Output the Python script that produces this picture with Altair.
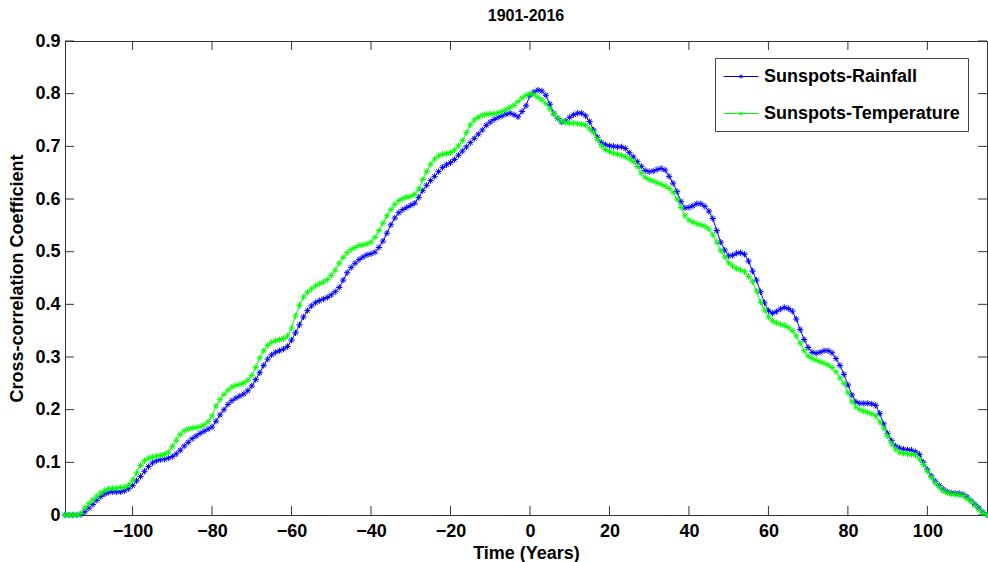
import altair as alt
import pandas as pd

lags = list(range(-117, 116))

rainfall = [
    0, 0, 0, 0, 0.001, 0.006, 0.013, 0.02, 0.028, 0.035,           # -117..-108
    0.04, 0.043, 0.044, 0.044, 0.044, 0.046, 0.05, 0.056, 0.065, 0.073,  # -107..-98
    0.083, 0.092, 0.099, 0.103, 0.105, 0.106, 0.108, 0.111, 0.116, 0.123,  # -97..-88
    0.131, 0.138, 0.145, 0.15, 0.155, 0.159, 0.163, 0.167, 0.178, 0.19,  # -87..-78
    0.2, 0.21, 0.217, 0.222, 0.226, 0.23, 0.236, 0.245, 0.257, 0.27,   # -77..-68
    0.284, 0.296, 0.304, 0.309, 0.312, 0.315, 0.32, 0.332, 0.346, 0.361,  # -67..-58
    0.376, 0.388, 0.397, 0.403, 0.407, 0.41, 0.413, 0.418, 0.424, 0.432,  # -57..-48
    0.446, 0.46, 0.47, 0.478, 0.485, 0.49, 0.494, 0.496, 0.499, 0.508,  # -47..-38
    0.52, 0.535, 0.551, 0.564, 0.574, 0.58, 0.584, 0.588, 0.592, 0.603,  # -37..-28
    0.616, 0.626, 0.635, 0.643, 0.652, 0.66, 0.665, 0.669, 0.675, 0.683,  # -27..-18
    0.691, 0.699, 0.707, 0.715, 0.723, 0.731, 0.74, 0.746, 0.751, 0.755,  # -17..-8
    0.758, 0.761, 0.763, 0.76, 0.756, 0.766, 0.777, 0.797, 0.803, 0.807,  # -7..2
    0.805, 0.797, 0.78, 0.762, 0.753, 0.746, 0.748, 0.755, 0.76, 0.763,  # 3..12
    0.763, 0.758, 0.747, 0.731, 0.717, 0.707, 0.703, 0.701, 0.7, 0.699,  # 13..22
    0.699, 0.696, 0.688, 0.68, 0.671, 0.662, 0.654, 0.652, 0.653, 0.656,  # 23..32
    0.658, 0.655, 0.643, 0.63, 0.614, 0.595, 0.583, 0.584, 0.587, 0.591,  # 33..42
    0.591, 0.586, 0.577, 0.563, 0.54, 0.518, 0.503, 0.492, 0.493, 0.497,  # 43..52
    0.498, 0.495, 0.482, 0.463, 0.446, 0.424, 0.403, 0.388, 0.383, 0.386,  # 53..62
    0.391, 0.394, 0.392, 0.387, 0.372, 0.352, 0.333, 0.318, 0.309, 0.307,  # 63..72
    0.309, 0.312, 0.312, 0.308, 0.297, 0.284, 0.267, 0.247, 0.228, 0.215,  # 73..82
    0.212, 0.212, 0.212, 0.211, 0.208, 0.193, 0.173, 0.155, 0.141, 0.131,  # 83..92
    0.127, 0.125, 0.124, 0.123, 0.12, 0.115, 0.1, 0.086, 0.074, 0.064,  # 93..102
    0.056, 0.049, 0.044, 0.042, 0.041, 0.041, 0.039, 0.034, 0.027, 0.02,  # 103..112
    0.013, 0.005, 0,                                                 # 113..115
]

temperature = [
    0, 0, 0, 0, 0.003, 0.014, 0.022, 0.029, 0.036, 0.042,
    0.047, 0.05, 0.051, 0.051, 0.052, 0.053, 0.057, 0.066, 0.08, 0.094,
    0.103, 0.108, 0.11, 0.112, 0.113, 0.115, 0.119, 0.13, 0.142, 0.153,
    0.16, 0.163, 0.165, 0.166, 0.168, 0.171, 0.177, 0.188, 0.207, 0.219,
    0.229, 0.237, 0.243, 0.246, 0.248, 0.251, 0.256, 0.265, 0.28, 0.298,
    0.312, 0.322, 0.328, 0.331, 0.333, 0.335, 0.34, 0.355, 0.378, 0.398,
    0.414, 0.423, 0.429, 0.435, 0.439, 0.442, 0.447, 0.455, 0.465, 0.478,
    0.489, 0.498, 0.504, 0.508, 0.512, 0.513, 0.515, 0.518, 0.527, 0.54,
    0.554, 0.568, 0.58, 0.59, 0.597, 0.601, 0.604, 0.605, 0.609, 0.619,
    0.637, 0.652, 0.666, 0.676, 0.682, 0.685, 0.686, 0.688, 0.693, 0.701,
    0.711, 0.726, 0.741, 0.75, 0.755, 0.759, 0.761, 0.762, 0.762, 0.764,
    0.766, 0.77, 0.774, 0.778, 0.785, 0.792, 0.797, 0.8, 0.798, 0.793,
    0.788, 0.781, 0.771, 0.762, 0.754, 0.748, 0.745, 0.744, 0.744, 0.743,
    0.742, 0.74, 0.733, 0.726, 0.713, 0.701, 0.694, 0.69, 0.687, 0.685,
    0.683, 0.68, 0.676, 0.671, 0.662, 0.649, 0.641, 0.637, 0.634, 0.631,
    0.628, 0.625, 0.62, 0.613, 0.6, 0.584, 0.568, 0.56, 0.556, 0.553,
    0.551, 0.548, 0.543, 0.532, 0.518, 0.502, 0.49, 0.479, 0.473, 0.468,
    0.465, 0.462, 0.453, 0.443, 0.425, 0.404, 0.389, 0.376, 0.369, 0.365,
    0.362, 0.36, 0.356, 0.35, 0.34, 0.326, 0.312, 0.302, 0.297, 0.294,
    0.291, 0.288, 0.285, 0.28, 0.272, 0.26, 0.25, 0.232, 0.215, 0.205,
    0.2, 0.197, 0.195, 0.192, 0.188, 0.177, 0.165, 0.15, 0.135, 0.125,
    0.119, 0.117, 0.116, 0.115, 0.114, 0.106, 0.096, 0.083, 0.071, 0.061,
    0.053, 0.046, 0.042, 0.04, 0.039, 0.038, 0.037, 0.031, 0.026, 0.018,
    0.01, 0.004, 0,
]

series_names = ["Sunspots-Rainfall", "Sunspots-Temperature"]
series_colors = ["#0000ff", "#00ff00"]
x_ticks = [-100, -80, -60, -40, -20, 0, 20, 40, 60, 80, 100]
y_ticks = [0, 0.1, 0.2, 0.3, 0.4, 0.5, 0.6, 0.7, 0.8, 0.9]

FONT = "Liberation Sans"
W, H = 922, 474

df = pd.concat([
    pd.DataFrame({"lag": lags, "value": rainfall, "series": series_names[0]}),
    pd.DataFrame({"lag": lags, "value": temperature, "series": series_names[1]}),
])

xscale = alt.Scale(domain=[-117, 115], nice=False, zero=False)
yscale = alt.Scale(domain=[0, 0.9], nice=False)
cscale = alt.Scale(domain=series_names, range=series_colors)

legend_path = ("M-1,0L2.5,0M0.55,0L0.95,0M0.75,-0.2L0.75,0.2"
               "M0.61,-0.14L0.89,0.14M0.61,0.14L0.89,-0.14")
legend = alt.Legend(
    title=None, orient="none", legendX=650, legendY=17,
    symbolType=legend_path, symbolSize=400, symbolStrokeWidth=1,
    symbolFillColor="transparent",
    labelFont=FONT, labelFontSize=18, labelFontWeight="bold", labelColor="black",
    labelLimit=400, labelOffset=20, padding=8, rowPadding=17,
    strokeColor="#444", fillColor="white", cornerRadius=0,
)

asterisk = "M-1,0L1,0M0,-1L0,1M-0.7,-0.7L0.7,0.7M-0.7,0.7L0.7,-0.7"

base = alt.Chart(df)
x_enc = alt.X("lag:Q", scale=xscale, title="Time (Years)",
              axis=alt.Axis(values=x_ticks, ticks=False, domain=False, grid=False,
                            labelFont=FONT, labelFontSize=18, labelFontWeight="bold",
                            labelColor="black", labelPadding=7, labelFlush=False,
                            titleFont=FONT, titleFontSize=18, titleFontWeight="bold",
                            titleColor="black", titlePadding=4))
y_enc = alt.Y("value:Q", scale=yscale, title="Cross-correlation Coefficient",
              axis=alt.Axis(values=y_ticks, ticks=False, domain=False, grid=False,
                            labelExpr="datum.value == 0 ? '0' : format(datum.value, '.1f')",
                            labelFont=FONT, labelFontSize=18, labelFontWeight="bold",
                            labelColor="black", labelPadding=5, labelFlush=False,
                            titleFont=FONT, titleFontSize=18, titleFontWeight="bold",
                            titleColor="black", titlePadding=8))
c_enc = alt.Color("series:N", scale=cscale, legend=legend)

layers = []
for name in series_names:
    sub = base.transform_filter(alt.datum.series == name)
    layers.append(sub.mark_line(strokeWidth=1).encode(x=x_enc, y=y_enc, color=c_enc))
    layers.append(sub.mark_point(shape=asterisk, size=40, filled=False, strokeWidth=1,
                                 opacity=1).encode(x=x_enc, y=y_enc, color=c_enc))

tick_color = "#333"
tlen = 9
xt = alt.Chart(pd.DataFrame({"t": x_ticks}))
yt = alt.Chart(pd.DataFrame({"t": y_ticks}))
ticks = [
    xt.mark_rule(color=tick_color, strokeWidth=1).encode(
        x=alt.X("t:Q", scale=xscale), y=alt.value(H), y2=alt.value(H - tlen)),
    xt.mark_rule(color=tick_color, strokeWidth=1).encode(
        x=alt.X("t:Q", scale=xscale), y=alt.value(0), y2=alt.value(tlen)),
    yt.mark_rule(color=tick_color, strokeWidth=1).encode(
        y=alt.Y("t:Q", scale=yscale), x=alt.value(0), x2=alt.value(tlen)),
    yt.mark_rule(color=tick_color, strokeWidth=1).encode(
        y=alt.Y("t:Q", scale=yscale), x=alt.value(W), x2=alt.value(W - tlen)),
]

chart = alt.layer(*ticks, *layers).properties(
    width=W, height=H,
    title=alt.TitleParams("1901-2016", font=FONT, fontSize=16, fontWeight="bold",
                          color="black", offset=8),
    autosize=alt.AutoSizeParams(type="none"),
    padding={"left": 65, "top": 41, "right": 1, "bottom": 47},
    background="white",
).configure_view(stroke="#333", strokeWidth=1)

chart.save("out.html", embed_options={"renderer": "svg", "actions": False})
